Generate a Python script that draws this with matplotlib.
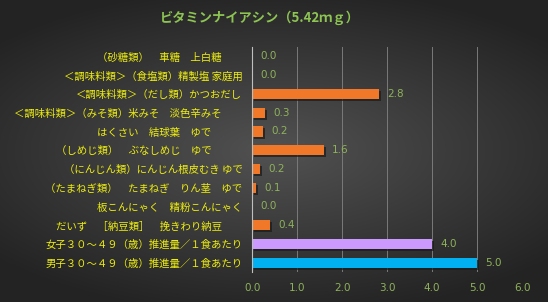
import numpy as np
import matplotlib
matplotlib.use("Agg")
import matplotlib.pyplot as plt
import matplotlib.patheffects as pe

plt.rcParams['font.family'] = ['Noto Sans CJK JP', 'DejaVu Sans']

title = "ビタミンナイアシン（5.42ｍｇ）"
labels = [
    "（砂糖類）　車糖　上白糖　　",
    "＜調味料類＞（食塩類）精製塩 家庭用",
    "＜調味料類＞（だし類）かつおだし",
    "＜調味料類＞（みそ類）米みそ　淡色辛みそ　　",
    "はくさい　結球葉　ゆで　　　",
    "（しめじ類）　ぶなしめじ　ゆで　　　",
    "（にんじん類）にんじん根皮むき ゆで",
    "（たまねぎ類）　たまねぎ　りん茎　ゆで",
    "板こんにゃく　精粉こんにゃく",
    "だいず　［納豆類］　挽きわり納豆　　",
    "女子３０～４９（歳）推進量／１食あたり",
    "男子３０～４９（歳）推進量／１食あたり",
]
values = [0.0, 0.0, 2.83, 0.29, 0.24, 1.6, 0.18, 0.09, 0.0, 0.4, 4.0, 5.0]
colors = ['#F07828'] * 10 + ['#CC99FF', '#00B0F0']
xticks = [0, 1, 2, 3, 4, 5, 6]

fig = plt.figure(figsize=(5.48, 3.02), dpi=100)

# radial gradient background
bg = fig.add_axes([0, 0, 1, 1], zorder=-10)
yy, xx = np.mgrid[-1:1:300j, -1:1:548j]
r = np.sqrt((xx * 0.9) ** 2 + (yy * 1.1) ** 2)
g = np.clip(0.32 - 0.15 * r, 0.14, 1)
bg.imshow(np.dstack([g, g, g]), aspect='auto', extent=[0, 1, 0, 1])
bg.axis('off')

ax = fig.add_axes([0.46, 0.099, 0.4926, 0.745])
ax.patch.set_alpha(0)
y = np.arange(len(labels))
bars = ax.barh(y, values, height=0.55, color=colors, zorder=3)
for b in bars:
    b.set_path_effects([pe.SimplePatchShadow(offset=(1.5, -1.5), shadow_rgbFace='#1a1a1a', alpha=0.7), pe.Normal()])
for yi, v in zip(y, values):
    ax.text(v + 0.18, yi, f"{v:.1f}", va='center', ha='left', fontsize=7.5, color='#8FB25A', family=['DejaVu Sans'])

ax.set_ylim(len(labels) - 0.5, -0.5)
ax.set_xlim(0, 6)
ax.set_xticks(xticks)
ax.set_xticklabels([f"{t:.1f}" for t in xticks], color='#8FB25A', fontsize=7.5, family=['DejaVu Sans'])
ax.set_yticks(y)
ax.set_yticklabels(labels, color='#EDED10', fontsize=7.5)
ax.tick_params(axis='both', length=0)
ax.tick_params(axis='y', pad=7)
ax.tick_params(axis='x', pad=8)
ax.grid(axis='x', color='#7a7a7a', linewidth=0.7, zorder=0)
for s in ['top', 'right', 'bottom']:
    ax.spines[s].set_visible(False)
ax.spines['left'].set_color('#bfbfbf')
ax.spines['left'].set_linewidth(0.8)
ax.spines['left'].set_zorder(4)

fig.text(0.475, 0.94, title, ha='center', va='center', fontsize=9.5, color='#8DC452', fontweight='bold')

fig.savefig('out.png', dpi=100)
